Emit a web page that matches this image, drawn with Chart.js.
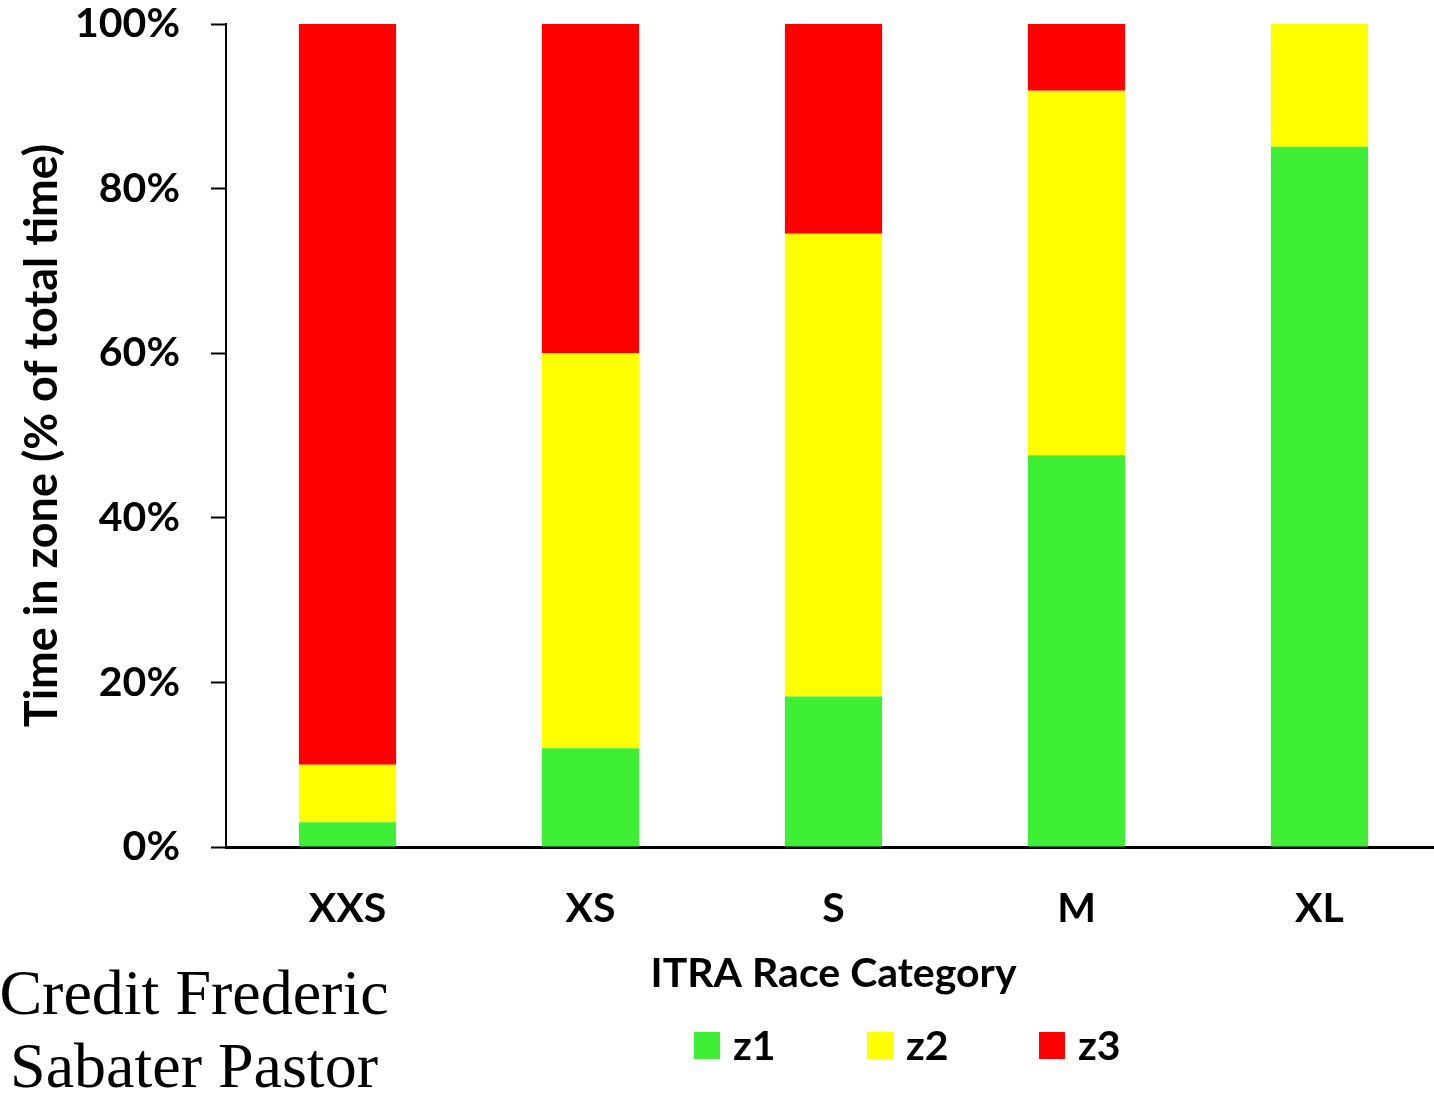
<!DOCTYPE html>
<html>
<head>
<meta charset="utf-8">
<script src="https://cdn.jsdelivr.net/npm/chart.js@4/dist/chart.umd.min.js"></script>
<style>
  html, body { margin: 0; padding: 0; background: #fff; overflow: hidden; }
  #wrap { position: relative; width: 1434px; height: 1097px; overflow: hidden; }
  #chart { position: absolute; left: 0; top: 0; }
  .legend { position: absolute; top: 1025px; left: 0; height: 40px; font: bold 41px Lato, sans-serif; color: #000; }
  .legend span.item { position: absolute; top: 0; display: flex; align-items: center; white-space: nowrap; line-height: 40px; }
  .legend i { display: inline-block; width: 26px; height: 27px; margin-right: 13px; }
  .credit { position: absolute; left: -16px; top: 956px; width: 420px; text-align: center; white-space: nowrap;
            font: 64px "Liberation Serif", "Times New Roman", serif; line-height: 73px; color: #000; }
</style>
</head>
<body>
<div id="wrap">
  <canvas id="chart" width="1441" height="1097"></canvas>
  <div class="legend" id="legend"></div>
  <div class="credit">Credit Frederic<br>Sabater Pastor</div>
</div>
<script>
const categories = ["XXS", "XS", "S", "M", "XL"];
const zoneNames  = ["z1", "z2", "z3"];
const zoneColors = ["#3fef36", "#ffff00", "#ff0000"];

// % of total time per zone
const z1 = [3, 12, 18.3, 47.6, 85.1];
const z2 = [7, 48, 56.2, 44.3, 14.9];
const z3 = [90, 40, 25.5, 8.1, 0];

const yTicks = [0, 20, 40, 60, 80, 100];

const FONT = "Lato, 'Open Sans', sans-serif";

document.addEventListener("DOMContentLoaded", () => {
  const series = [z1, z2, z3];

  new Chart(document.getElementById("chart"), {
    type: "bar",
    data: {
      labels: categories,
      datasets: series.map((vals, i) => ({
        label: zoneNames[i],
        data: vals,
        backgroundColor: zoneColors[i],
        borderWidth: 0,
        barPercentage: 0.4,
        categoryPercentage: 1
      }))
    },
    options: {
      responsive: false,
      devicePixelRatio: 1,
      animation: false,
      layout: { padding: 0 },
      plugins: {
        legend: { display: false },
        tooltip: { enabled: false }
      },
      scales: {
        x: {
          stacked: true,
          afterFit: s => { s.height = 250; },
          grid: { display: false },
          border: { display: true, color: "#000", width: 3 },
          ticks: {
            color: "#000",
            padding: 29,
            font: { family: FONT, size: 41, weight: "bold" }
          },
          title: {
            display: true,
            text: "ITRA Race Category",
            color: "#000",
            font: { family: FONT, size: 41, weight: "bold" },
            padding: { top: 0, bottom: 99 }
          }
        },
        y: {
          stacked: true,
          min: 0,
          max: 100,
          afterFit: s => {
            s.width = 226;
            s.paddingTop = 24;
            s.paddingBottom = 0;
          },
          afterBuildTicks: s => { s.ticks = yTicks.map(v => ({ value: v })); },
          grid: {
            drawOnChartArea: false,
            drawTicks: true,
            tickLength: 15,
            tickWidth: 2,
            tickColor: "#000"
          },
          border: { display: true, color: "#000", width: 2 },
          ticks: {
            color: "#000",
            padding: 31,
            font: { family: FONT, size: 41, weight: "bold" },
            callback: v => v + "%"
          },
          title: {
            display: true,
            text: "Time in zone (% of total time)",
            color: "#000",
            font: { family: FONT, size: 45, weight: "bold" },
            padding: { top: 15, bottom: 0 }
          }
        }
      }
    }
  });

  // legend, laid out like the original (square + label)
  const legendEl = document.getElementById("legend");
  const legendX = [694, 867, 1039];
  legendEl.innerHTML = zoneNames.map((name, i) =>
    `<span class="item" style="left:${legendX[i]}px"><i style="background:${zoneColors[i]}"></i>${name}</span>`
  ).join("");
});
</script>
</body>
</html>
